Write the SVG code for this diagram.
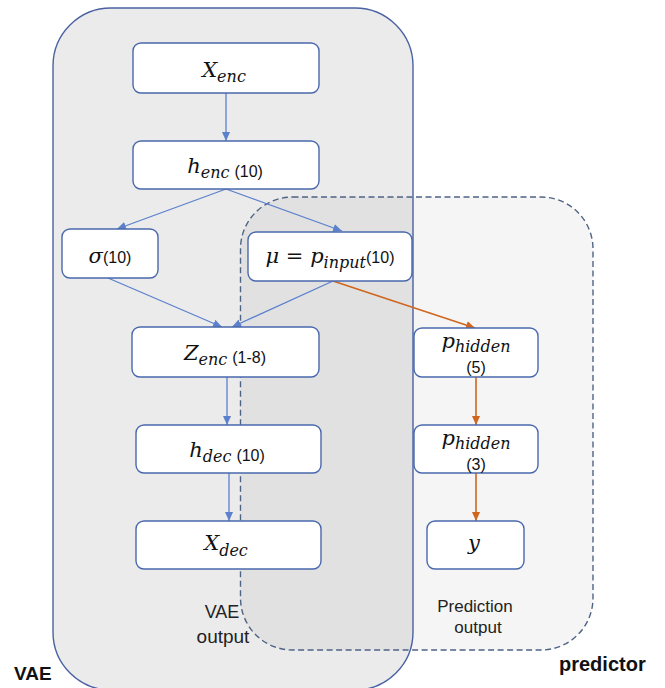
<svg xmlns="http://www.w3.org/2000/svg" width="665" height="688" viewBox="0 0 665 688">
<defs>
<marker id="ab" viewBox="0 0 10 10" refX="10" refY="5" markerWidth="9" markerHeight="9" markerUnits="userSpaceOnUse" orient="auto"><path d="M0,0.5 L10,5 L0,9.5 z" fill="#5b80cc"/></marker>
<marker id="ao" viewBox="0 0 10 10" refX="10" refY="5" markerWidth="9" markerHeight="9" markerUnits="userSpaceOnUse" orient="auto"><path d="M0,0.5 L10,5 L0,9.5 z" fill="#d0661e"/></marker>
</defs>
<style>
.node rect{fill:#ffffff;stroke:#4a68ad;stroke-width:1.4}
.m{font-family:"DejaVu Serif",serif;font-style:italic;fill:#111}
.s{font-family:"Liberation Sans",Arial,sans-serif;font-style:normal;fill:#111}
.lbl{font-family:"Liberation Sans",Arial,sans-serif;fill:#222;text-anchor:middle}
.cb{stroke:#5b80cc;stroke-width:1.3;fill:none;marker-end:url(#ab)}
.co{stroke:#d0661e;stroke-width:1.6;fill:none;marker-end:url(#ao)}
</style>
<rect width="665" height="688" fill="#ffffff"/>
<g id="vae-group">
<rect x="53" y="8" width="360" height="682" rx="58" ry="58" fill="#ebebeb"/>
</g>
<g id="predictor-group">
<rect x="240.5" y="197" width="352.5" height="453" rx="52" ry="52" fill="#000000" fill-opacity="0.04"/>
<rect x="53" y="8" width="360" height="682" rx="58" ry="58" fill="none" stroke="#4a62a2" stroke-width="1.4"/>
<rect x="240.5" y="197" width="352.5" height="453" rx="52" ry="52" fill="none" stroke="#4f6385" stroke-width="1.4" stroke-dasharray="6,3.5"/>
<text class="lbl" x="222" y="618" font-size="18">VAE</text>
<text class="lbl" x="223" y="643" font-size="19">output</text>
<text class="lbl" x="475" y="612" font-size="17">Prediction</text>
<text class="lbl" x="478" y="633" font-size="17">output</text>
<text x="14" y="680" font-family="Liberation Sans,Arial,sans-serif" font-weight="bold" font-size="19" fill="#111">VAE</text>
<text x="559" y="671" font-family="Liberation Sans,Arial,sans-serif" font-weight="bold" font-size="20" fill="#111">predictor</text>
</g>
<g id="connectors">
<line class="cb" x1="226" y1="93" x2="226" y2="141"/>
<line class="cb" x1="226" y1="189" x2="117" y2="229"/>
<line class="cb" x1="226" y1="189" x2="342" y2="231"/>
<line class="cb" x1="108" y1="278" x2="222" y2="327"/>
<line class="cb" x1="333" y1="281" x2="232" y2="327"/>
<line class="cb" x1="227" y1="377" x2="227" y2="425"/>
<line class="cb" x1="229" y1="473" x2="229" y2="521"/>
<line class="co" x1="333" y1="281" x2="475" y2="328"/>
<line class="co" x1="476" y1="377" x2="476" y2="425"/>
<line class="co" x1="476" y1="473" x2="476" y2="521"/>
</g>
<g id="x-enc" class="node">
<rect x="133" y="43" width="186" height="50" rx="8"/>
<text class="m" x="224" y="77" text-anchor="middle"><tspan font-size="21">X</tspan><tspan font-size="16" dy="5">enc</tspan></text>
</g>
<g id="h-enc" class="node">
<rect x="133" y="141" width="186" height="48" rx="8"/>
<text class="m" x="225" y="173" text-anchor="middle"><tspan font-size="21">h</tspan><tspan font-size="16" dy="5">enc</tspan><tspan class="s" font-size="16" dx="5" dy="-1">(10)</tspan></text>
</g>
<g id="sigma" class="node">
<rect x="62" y="229" width="96" height="49" rx="8"/>
<text class="m" x="110" y="263" text-anchor="middle"><tspan font-size="21">σ</tspan><tspan class="s" font-size="16">(10)</tspan></text>
</g>
<g id="mu" class="node">
<rect x="248" y="232" width="164" height="49" rx="8"/>
<text class="m" x="330" y="263" text-anchor="middle"><tspan font-size="21">μ = p</tspan><tspan font-size="16" dy="5">input</tspan><tspan class="s" font-size="16" dy="-5">(10)</tspan></text>
</g>
<g id="z-enc" class="node">
<rect x="132" y="327" width="187" height="50" rx="8"/>
<text class="m" x="225" y="360" text-anchor="middle"><tspan font-size="21">Z</tspan><tspan font-size="16" dy="5">enc</tspan><tspan class="s" font-size="16" dx="5" dy="-2">(1-8)</tspan></text>
</g>
<g id="h-dec" class="node">
<rect x="136" y="425" width="185" height="48" rx="8"/>
<text class="m" x="227" y="457" text-anchor="middle"><tspan font-size="21">h</tspan><tspan font-size="16" dy="5">dec</tspan><tspan class="s" font-size="16" dx="5" dy="-1">(10)</tspan></text>
</g>
<g id="x-dec" class="node">
<rect x="136" y="521" width="185" height="48" rx="8"/>
<text class="m" x="226" y="550" text-anchor="middle"><tspan font-size="21">X</tspan><tspan font-size="16" dy="6">dec</tspan></text>
</g>
<g id="p-hidden-5" class="node">
<rect x="414" y="328" width="124" height="49" rx="8"/>
<text class="m" x="476" y="348" text-anchor="middle"><tspan font-size="21">p</tspan><tspan font-size="16" dy="4">hidden</tspan></text>
<text class="s" x="476" y="373" text-anchor="middle" font-size="16">(5)</text>
</g>
<g id="p-hidden-3" class="node">
<rect x="414" y="425" width="124" height="48" rx="8"/>
<text class="m" x="476" y="445" text-anchor="middle"><tspan font-size="21">p</tspan><tspan font-size="16" dy="4">hidden</tspan></text>
<text class="s" x="476" y="470" text-anchor="middle" font-size="16">(3)</text>
</g>
<g id="y" class="node">
<rect x="427" y="521" width="97" height="48" rx="8"/>
<text class="m" x="474" y="550" text-anchor="middle" font-size="21">y</text>
</g>
</svg>
